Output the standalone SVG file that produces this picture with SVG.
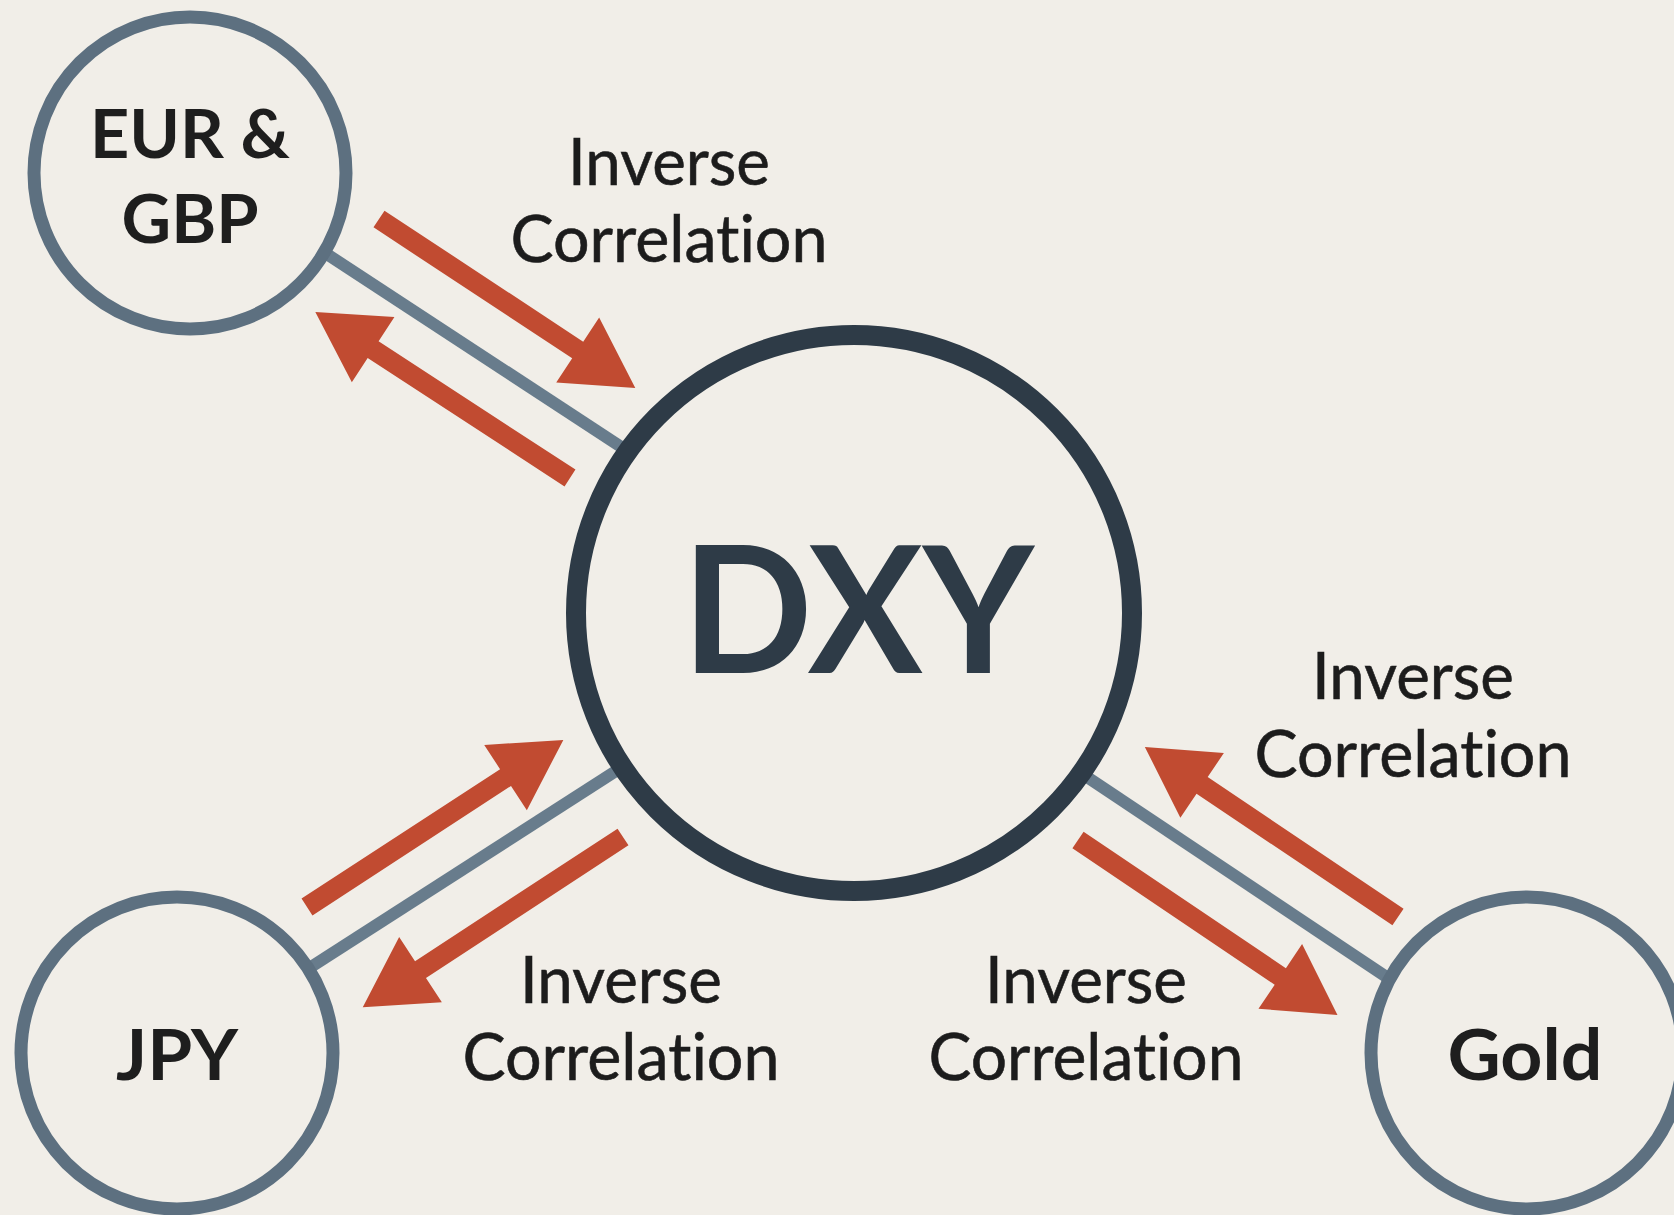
<svg xmlns="http://www.w3.org/2000/svg" width="1674" height="1215" viewBox="0 0 1674 1215">
<style>
.bg{fill:#F1EEE8}
.small{fill:#F1EEE8;stroke:#5D7080;stroke-width:13}
.big{fill:#F1EEE8;stroke:#2E3B47;stroke-width:20}
.link{stroke:#687C8C;stroke-width:12;fill:none}
.arrow{fill:#C14B31}
.lbl{font-family:Lato,"Open Sans","Liberation Sans",sans-serif;font-size:66px;fill:#1C1C1C;stroke:#1C1C1C;stroke-width:0.6;text-anchor:middle;font-variant-ligatures:none}
.node{font-family:Lato,"Open Sans","Liberation Sans",sans-serif;font-weight:bold;fill:#1E1E1E;text-anchor:middle;font-variant-ligatures:none}
.dxy{font-family:Lato,"Open Sans","Liberation Sans",sans-serif;font-weight:bold;fill:#2E3B47;text-anchor:middle;font-size:176px}
</style>
<rect class="bg" x="0" y="0" width="1674" height="1215"/>
<g id="connectors">
<line class="link" x1="316" y1="247" x2="635" y2="456"/>
<line class="link" x1="300" y1="974" x2="630" y2="762"/>
<line class="link" x1="1075" y1="769" x2="1397" y2="984"/>
<g class="arrow">
<path transform="translate(379,219) rotate(33.4)" d="M0,-10 L238,-10 L238,-39 L307,0 L238,39 L238,10 L0,10 Z"/>
<path transform="translate(570,478) rotate(213.1)" d="M0,-10 L235,-10 L235,-39 L304,0 L235,39 L235,10 L0,10 Z"/>
<path transform="translate(307,907) rotate(-33.1)" d="M0,-10 L237,-10 L237,-39 L306,0 L237,39 L237,10 L0,10 Z"/>
<path transform="translate(623,837) rotate(146.8)" d="M0,-10 L242,-10 L242,-39 L311,0 L242,39 L242,10 L0,10 Z"/>
<path transform="translate(1398,917) rotate(213.9)" d="M0,-10 L236,-10 L236,-39 L305,0 L236,39 L236,10 L0,10 Z"/>
<path transform="translate(1078,840) rotate(34)" d="M0,-10 L244,-10 L244,-39 L313,0 L244,39 L244,10 L0,10 Z"/>
</g>
</g>
<g id="eur">
<circle class="small" cx="190" cy="173" r="156"/>
<text class="node" x="190" y="158" font-size="67" textLength="200" lengthAdjust="spacingAndGlyphs">EUR &amp;</text>
<text class="node" x="190" y="243" font-size="67" textLength="137" lengthAdjust="spacingAndGlyphs">GBP</text>
</g>
<g id="dxy">
<circle class="big" cx="854" cy="613" r="278"/>
<text class="dxy" x="858" y="673" textLength="352" lengthAdjust="spacingAndGlyphs">DXY</text>
</g>
<g id="jpy">
<circle class="small" cx="177" cy="1053" r="156"/>
<text class="node" x="177" y="1080" font-size="70" textLength="122" lengthAdjust="spacingAndGlyphs">JPY</text>
</g>
<g id="gold">
<circle class="small" cx="1527" cy="1053" r="156"/>
<text class="node" x="1525" y="1080" font-size="70" textLength="155" lengthAdjust="spacingAndGlyphs">Gold</text>
</g>
<g id="label-eur">
<text class="lbl" x="669" y="185" textLength="202" lengthAdjust="spacingAndGlyphs">Inverse</text>
<text class="lbl" x="669" y="262" textLength="317" lengthAdjust="spacingAndGlyphs">Correlation</text>
</g>
<g id="label-gold-up">
<text class="lbl" x="1413" y="699" textLength="202" lengthAdjust="spacingAndGlyphs">Inverse</text>
<text class="lbl" x="1413" y="777" textLength="317" lengthAdjust="spacingAndGlyphs">Correlation</text>
</g>
<g id="label-jpy">
<text class="lbl" x="621" y="1003" textLength="202" lengthAdjust="spacingAndGlyphs">Inverse</text>
<text class="lbl" x="621" y="1080" textLength="317" lengthAdjust="spacingAndGlyphs">Correlation</text>
</g>
<g id="label-gold">
<text class="lbl" x="1086" y="1003" textLength="202" lengthAdjust="spacingAndGlyphs">Inverse</text>
<text class="lbl" x="1086" y="1080" textLength="315" lengthAdjust="spacingAndGlyphs">Correlation</text>
</g>
</svg>
